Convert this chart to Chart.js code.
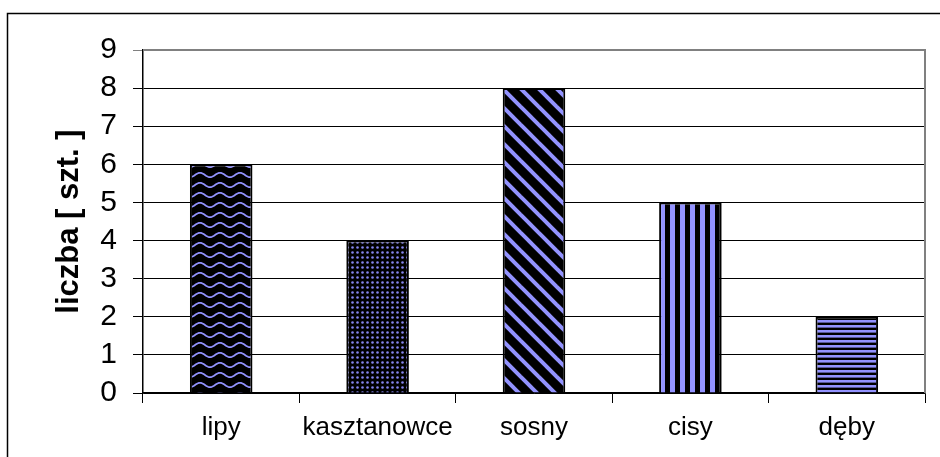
<!DOCTYPE html>
<html>
<head>
<meta charset="utf-8">
<script src="https://cdn.jsdelivr.net/npm/chart.js@4"></script>
<style>
  html, body { margin: 0; padding: 0; background: #fff; }
  #wrap { width: 940px; height: 457px; position: relative; }
</style>
</head>
<body>
<div id="wrap"><canvas id="chart" width="940" height="457"></canvas></div>
<script>
const categories = ['lipy', 'kasztanowce', 'sosny', 'cisy', 'dęby'];
const values = [6, 4, 8, 5, 2];
const yTicks = [0, 1, 2, 3, 4, 5, 6, 7, 8, 9];
const axisTitle = 'liczba [ szt. ]';

const BLUE = '#9393ff';
const FONT = '"Liberation Sans", Arial, sans-serif';

function makePattern(w, h, draw) {
    const c = document.createElement('canvas');
    c.width = w;
    c.height = h;
    const g = c.getContext('2d');
    g.fillStyle = '#000';
    g.fillRect(0, 0, w, h);
    g.fillStyle = BLUE;
    g.strokeStyle = BLUE;
    draw(g, w, h);
    return g.createPattern(c, 'repeat');
}

// wavy lines (lipy)
let wavePattern = makePattern(20, 10, (g, w, h) => {
    g.lineWidth = 1.8;
    g.beginPath();
    for (let x = 0; x <= w; x++) {
        let y = 5 - 2.2 * Math.cos(2 * Math.PI * x / w);
        if (x === 0) g.moveTo(x, y); else g.lineTo(x, y);
    }
    g.stroke();
});

// small dots (kasztanowce)
let dotPattern = makePattern(5, 5, (g) => {
    g.fillStyle = '#8585ee';
    g.beginPath();
    g.arc(2.5, 2.5, 1.3, 0, Math.PI * 2);
    g.fill();
});

// wide diagonal stripes (sosny)
let diagPattern = makePattern(18, 18, (g, w, h) => {
    g.lineWidth = 4;
    for (let k = -w; k <= w; k += w) {
        g.beginPath();
        g.moveTo(k - 2, -2);
        g.lineTo(k + w + 2, h + 2);
        g.stroke();
    }
});

// vertical stripes (cisy)
let vertPattern = makePattern(10, 4, (g, w, h) => {
    g.fillRect(0, 0, 5, h);
});

// horizontal stripes (dęby)
let horizPattern = makePattern(4, 10, (g, w) => {
    g.fillRect(0, 0, w, 2.6);
    g.fillRect(0, 5, w, 2.6);
});

const barFills = [wavePattern, dotPattern, diagPattern, vertPattern, horizPattern];

const frame = {
    id: 'frame',
    beforeDraw(chart) {
        const ctx = chart.ctx;
        ctx.save();
        ctx.strokeStyle = '#000';
        ctx.lineWidth = 1.5;
        ctx.beginPath();
        ctx.moveTo(7.5, 457);
        ctx.lineTo(7.5, 13.5);
        ctx.lineTo(940, 13.5);
        ctx.stroke();
        ctx.restore();
    },
    beforeDatasetsDraw(chart) {
        const a = chart.chartArea;
        const ctx = chart.ctx;
        ctx.save();
        ctx.strokeStyle = '#808080';
        ctx.lineWidth = 2;
        ctx.beginPath();
        ctx.moveTo(a.left, a.top);
        ctx.lineTo(a.right, a.top);
        ctx.lineTo(a.right, a.bottom);
        ctx.stroke();
        ctx.restore();
    }
};

new Chart(document.getElementById('chart'), {
    type: 'bar',
    data: {
        labels: categories,
        datasets: [{
            data: values,
            backgroundColor: barFills,
            borderColor: '#000',
            borderWidth: 2,
            categoryPercentage: 1,
            barPercentage: 0.4
        }]
    },
    options: {
        responsive: false,
        animation: false,
        events: [],
        layout: { padding: { left: 0, top: 50, right: 15, bottom: 0 } },
        plugins: {
            legend: { display: false },
            tooltip: { enabled: false }
        },
        scales: {
            x: {
                afterFit: (s) => { s.height = 64; },
                grid: {
                    offset: true,
                    drawOnChartArea: false,
                    drawTicks: true,
                    tickLength: 10,
                    color: '#000'
                },
                border: { display: true, color: '#000', width: 1.5 },
                ticks: {
                    color: '#000',
                    padding: 9,
                    font: { family: FONT, size: 26 }
                }
            },
            y: {
                min: yTicks[0],
                max: yTicks[yTicks.length - 1],
                afterFit: (s) => { s.width = 143; },
                afterBuildTicks: (s) => { s.ticks = yTicks.map(v => ({ value: v })); },
                grid: {
                    color: (c) => (c.tick && c.tick.value === 9 ? '#808080' : '#000'),
                    lineWidth: 1,
                    drawTicks: true,
                    tickLength: 10
                },
                border: { display: true, color: '#000', width: 1.5 },
                ticks: {
                    color: '#000',
                    padding: 16,
                    stepSize: 1,
                    autoSkip: false,
                    font: { family: FONT, size: 30 }
                },
                title: {
                    display: true,
                    text: axisTitle,
                    color: '#000',
                    padding: 51,
                    font: { family: FONT, size: 31, weight: 'bold' }
                }
            }
        }
    },
    plugins: [frame]
});
</script>
</body>
</html>
